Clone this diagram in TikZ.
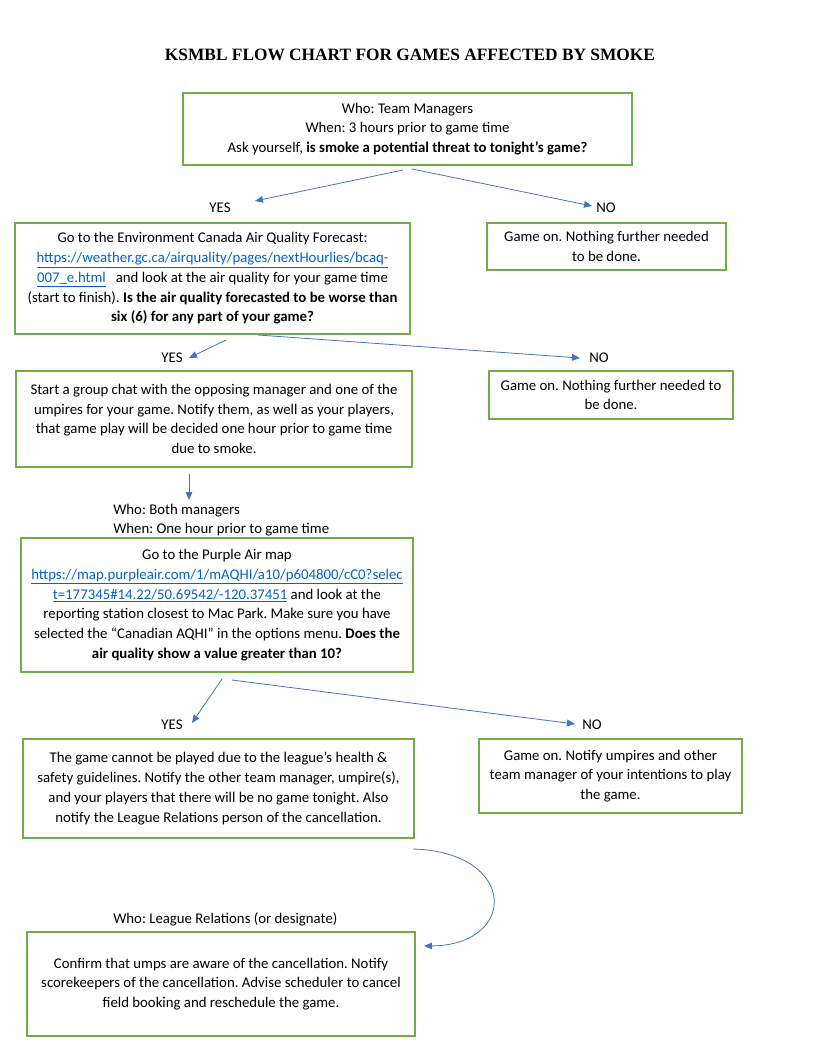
\documentclass[tikz,border=0pt]{standalone}
\usepackage{fontspec}
\setmainfont{Carlito}
\newfontfamily\titlefont{Liberation Serif}
\usetikzlibrary{arrows.meta}
\definecolor{boxgreen}{RGB}{112,173,71}
\definecolor{arrowblue}{RGB}{68,114,196}
\definecolor{linkblue}{RGB}{5,99,193}
\newcommand{\lnk}[1]{{\color{linkblue}\underline{#1}}}
\frenchspacing
\begin{document}
\begin{tikzpicture}[x=0.75pt,y=-0.75pt,
  box/.style={draw=boxgreen, line width=1.1pt, align=center, inner sep=2pt,
    font=\fontsize{11.1}{14.8}\selectfont},
  lbl/.style={font=\fontsize{11.1}{14.8}\selectfont, inner sep=1pt},
  plain/.style={font=\fontsize{11.1}{14.8}\selectfont, align=left, inner sep=0pt, anchor=west},
  arr/.style={draw=arrowblue, line width=0.6pt, -{Triangle[length=6pt,width=5pt]}}]
\useasboundingbox (0,0) rectangle (820,1062);
\node (title) at (410,55) {\titlefont\bfseries\fontsize{13}{15}\selectfont KSMBL FLOW CHART FOR GAMES AFFECTED BY SMOKE};

\node[box, minimum width=336.75pt, minimum height=54pt] (b1) at (407.5,129)
  {Who: Team Managers\\When: 3 hours prior to game time\\Ask yourself, \textbf{is smoke a potential threat to tonight's game?}};

\node[lbl] (yes1) at (220,208) {YES};
\node[lbl] (no1) at (606,208) {NO};
\coordinate (a1s) at (403,170); \coordinate (a1e) at (255,201);
\coordinate (a2s) at (412,169); \coordinate (a2e) at (592,206);
\draw[arr] (a1s) -- (a1e);
\draw[arr] (a2s) -- (a2e);

\node[box, minimum width=296.25pt, minimum height=83.25pt] (b2) at (212.5,278.5)
  {Go to the Environment Canada Air Quality Forecast:\\
   \lnk{https://weather.gc.ca/airquality/pages/nextHourlies/bcaq-}\\
   \lnk{007\_e.html}\ \ \ and look at the air quality for your game time\\
   (start to finish). \textbf{Is the air quality forecasted to be worse than}\\
   \textbf{six (6) for any part of your game?}};

\node[box, minimum width=179.25pt, minimum height=35.25pt] (n1) at (606.5,246.5)
  {Game on. Nothing further needed\\to be done.};

\node[lbl] (yes2) at (172,358) {YES};
\node[lbl] (no2) at (599,358) {NO};
\coordinate (a3s) at (226,340); \coordinate (a3e) at (189,358);
\coordinate (a4s) at (258,335); \coordinate (a4e) at (580,358);
\draw[arr] (a3s) -- (a3e);
\draw[arr] (a4s) -- (a4e);

\node[box, minimum width=297pt, minimum height=72pt] (b3) at (214,419)
  {Start a group chat with the opposing manager and one of the\\
   umpires for your game. Notify them, as well as your players,\\
   that game play will be decided one hour prior to game time\\
   due to smoke.};

\node[box, minimum width=183pt, minimum height=36pt] (n2) at (611,395)
  {Game on. Nothing further needed to\\be done.};

\coordinate (a5s) at (189,474); \coordinate (a5e) at (189,500);
\draw[arr] (a5s) -- (a5e);

\node[plain] (who2) at (113,511) {Who: Both managers};
\node[plain] (when2) at (113,530) {When: One hour prior to game time};

\node[box, minimum width=294pt, minimum height=100.5pt] (b4) at (217,605)
  {Go to the Purple Air map\\
   \lnk{https://map.purpleair.com/1/mAQHI/a10/p604800/cC0?selec}\\
   \lnk{t=177345\#14.22/50.69542/-120.37451} and look at the\\
   reporting station closest to Mac Park. Make sure you have\\
   selected the ``Canadian AQHI'' in the options menu. \textbf{Does the}\\
   \textbf{air quality show a value greater than 10?}};

\node[lbl] (yes3) at (172,725) {YES};
\node[lbl] (no3) at (592,725) {NO};
\coordinate (a6s) at (222,679); \coordinate (a6e) at (192,723);
\coordinate (a7s) at (232,680); \coordinate (a7e) at (575,724);
\draw[arr] (a6s) -- (a6e);
\draw[arr] (a7s) -- (a7e);

\node[box, minimum width=293.25pt, minimum height=74.25pt] (b5) at (218.5,788.5)
  {The game cannot be played due to the league's health \&\\
   safety guidelines. Notify the other team manager, umpire(s),\\
   and your players that there will be no game tonight. Also\\
   notify the League Relations person of the cancellation.};

\node[box, minimum width=197.25pt, minimum height=55.5pt] (n3) at (610.5,776)
  {Game on. Notify umpires and other\\team manager of your intentions to play\\the game.};

\coordinate (cs) at (413,849); \coordinate (ce) at (424,946);
\draw[arr] (cs) .. controls (518,852) and (518,945) .. (ce);

\node[plain] (who3) at (113,919) {Who: League Relations (or designate)};

\node[box, minimum width=291pt, minimum height=78pt] (b6) at (221,984)
  {Confirm that umps are aware of the cancellation. Notify\\
   scorekeepers of the cancellation. Advise scheduler to cancel\\
   field booking and reschedule the game.};
\end{tikzpicture}
\end{document}
